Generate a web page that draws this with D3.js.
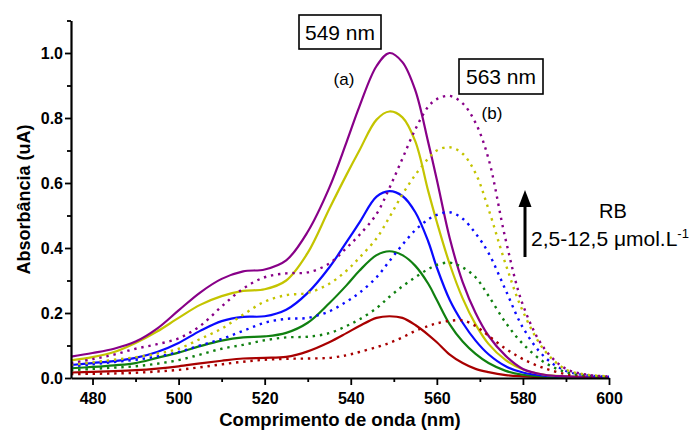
<!DOCTYPE html>
<html>
<head>
<meta charset="utf-8">
<script src="https://cdn.jsdelivr.net/npm/d3@7"></script>
<style>
  html, body { margin: 0; padding: 0; background: #ffffff; }
  svg { display: block; }
  text { font-family: "Liberation Sans", Arial, sans-serif; }
</style>
</head>
<body>
<svg id="chart" width="699" height="432"></svg>
<script>
// Wavelength grid (nm)
const wavelengths = [475,480,485,490,495,500,505,510,515,520,525,530,535,539,542,546,549,552,555,558,560,563,566,569,572,576,580,585,590,595,600];

// (a) spectra, maximum at 549 nm
const a1 = [0.017,0.019,0.021,0.024,0.029,0.036,0.045,0.053,0.060,0.062,0.065,0.082,0.110,0.138,0.160,0.185,0.190,0.185,0.163,0.133,0.110,0.072,0.046,0.028,0.018,0.009,0.005,0.002,0.001,0.001,0.001];
const a2 = [0.030,0.034,0.039,0.046,0.062,0.078,0.098,0.115,0.125,0.128,0.139,0.170,0.230,0.285,0.330,0.378,0.390,0.378,0.345,0.290,0.240,0.165,0.112,0.074,0.046,0.022,0.010,0.004,0.002,0.001,0.001];
const a3 = [0.040,0.046,0.052,0.062,0.080,0.108,0.145,0.175,0.188,0.190,0.210,0.262,0.340,0.418,0.478,0.558,0.575,0.560,0.510,0.420,0.340,0.240,0.170,0.115,0.073,0.036,0.017,0.007,0.004,0.002,0.001];
const a4 = [0.054,0.064,0.080,0.108,0.143,0.185,0.225,0.252,0.268,0.273,0.300,0.385,0.520,0.625,0.700,0.795,0.820,0.802,0.728,0.575,0.480,0.350,0.245,0.165,0.105,0.055,0.026,0.010,0.005,0.003,0.002];
const a5 = [0.066,0.077,0.090,0.112,0.152,0.208,0.263,0.305,0.328,0.334,0.362,0.450,0.585,0.725,0.835,0.960,1.000,0.972,0.885,0.725,0.610,0.430,0.295,0.200,0.130,0.068,0.028,0.010,0.005,0.003,0.002];

// (b) spectra, maximum at 563 nm
const b1 = [0.012,0.013,0.014,0.016,0.020,0.025,0.033,0.042,0.050,0.056,0.059,0.060,0.062,0.070,0.080,0.095,0.108,0.125,0.145,0.160,0.168,0.176,0.177,0.160,0.130,0.090,0.058,0.030,0.012,0.005,0.002];
const b2 = [0.024,0.028,0.032,0.036,0.044,0.055,0.072,0.090,0.102,0.116,0.125,0.127,0.138,0.160,0.180,0.215,0.250,0.282,0.310,0.335,0.348,0.355,0.340,0.310,0.253,0.170,0.105,0.048,0.018,0.007,0.003];
const b3 = [0.036,0.042,0.049,0.056,0.066,0.080,0.100,0.120,0.145,0.170,0.182,0.185,0.205,0.235,0.262,0.310,0.360,0.410,0.455,0.488,0.502,0.510,0.490,0.445,0.385,0.270,0.155,0.065,0.022,0.008,0.004];
const b4 = [0.040,0.048,0.056,0.064,0.075,0.090,0.120,0.152,0.195,0.235,0.255,0.262,0.290,0.330,0.370,0.430,0.495,0.565,0.625,0.675,0.700,0.710,0.690,0.630,0.520,0.350,0.205,0.085,0.026,0.010,0.005];
const b5 = [0.046,0.058,0.072,0.090,0.104,0.122,0.160,0.220,0.275,0.310,0.322,0.325,0.352,0.400,0.440,0.505,0.585,0.675,0.765,0.835,0.858,0.868,0.845,0.785,0.675,0.425,0.225,0.090,0.028,0.010,0.005];

const seriesColors = ["#a80000", "#108010", "#0a0aff", "#c4c400", "#880088"];
const solidSeries = [a1, a2, a3, a4, a5];
const dottedSeries = [b1, b2, b3, b4, b5];

// Axis ticks
const xMajorTicks = [480, 500, 520, 540, 560, 580, 600];
const xMinorTicks = [490, 510, 530, 550, 570, 590];
const yMajorTicks = [0.0, 0.2, 0.4, 0.6, 0.8, 1.0];
const yMinorTicks = [0.1, 0.3, 0.5, 0.7, 0.9, 1.1];

const svg = d3.select("#chart");

const x = d3.scaleLinear().domain([475, 600]).range([71, 609]);
const y = d3.scaleLinear().domain([0, 1.1]).range([378, 20.5]);

const line = d3.line()
  .x((d, i) => x(wavelengths[i]))
  .y(d => y(d))
  .curve(d3.curveCatmullRom.alpha(0.5));

const plot = svg.append("g");

// solid curves (a)
plot.selectAll("path.solid")
  .data(solidSeries)
  .join("path")
  .attr("class", "solid")
  .attr("d", line)
  .attr("fill", "none")
  .attr("stroke", (d, i) => seriesColors[i])
  .attr("stroke-width", 2.2);

// dotted curves (b)
plot.selectAll("path.dotted")
  .data(dottedSeries)
  .join("path")
  .attr("class", "dotted")
  .attr("d", line)
  .attr("fill", "none")
  .attr("stroke", (d, i) => seriesColors[i])
  .attr("stroke-width", 2.4)
  .attr("stroke-dasharray", "2.4 4.8");

// Axes
svg.append("g")
  .attr("transform", "translate(0,378)")
  .call(d3.axisBottom(x).tickValues(xMajorTicks).tickFormat(d3.format("d"))
    .tickSize(7).tickSizeOuter(0).tickPadding(8));
svg.append("g")
  .attr("transform", "translate(0,378)")
  .call(d3.axisBottom(x).tickValues(xMinorTicks).tickFormat("").tickSize(4).tickSizeOuter(0))
  .select(".domain").remove();

svg.append("g")
  .attr("transform", "translate(71,0)")
  .call(d3.axisLeft(y).tickValues(yMajorTicks).tickFormat(d3.format(".1f"))
    .tickSize(6).tickSizeOuter(0).tickPadding(2));
svg.append("g")
  .attr("transform", "translate(71,0)")
  .call(d3.axisLeft(y).tickValues(yMinorTicks).tickFormat("").tickSize(4).tickSizeOuter(0))
  .select(".domain").remove();

svg.selectAll(".domain").attr("stroke", "#000").attr("stroke-width", 2.2);
svg.selectAll(".tick line").attr("stroke", "#000").attr("stroke-width", 1.8);
svg.selectAll(".tick text")
  .attr("fill", "#000")
  .style("font-family", "'Liberation Sans', Arial, sans-serif")
  .style("font-size", "16px")
  .style("font-weight", "bold");

// Axis titles
svg.append("text")
  .attr("x", 340).attr("y", 426)
  .attr("text-anchor", "middle")
  .style("font-size", "18.5px").style("font-weight", "bold")
  .text("Comprimento de onda (nm)");

svg.append("text")
  .attr("transform", "translate(30,199.5) rotate(-90)")
  .attr("text-anchor", "middle")
  .style("font-size", "18px").style("font-weight", "bold")
  .text("Absorbância (uA)");

// Peak wavelength boxes
function peakBox(bx, by, bw, bh, label) {
  svg.append("rect")
    .attr("x", bx).attr("y", by).attr("width", bw).attr("height", bh)
    .attr("fill", "#fff").attr("stroke", "#000").attr("stroke-width", 1.6);
  svg.append("text")
    .attr("x", bx + bw / 2).attr("y", by + bh / 2 + 7.5)
    .attr("text-anchor", "middle")
    .style("font-size", "21px")
    .text(label);
}
peakBox(299, 15, 82, 34, "549 nm");
peakBox(459, 59, 84, 35, "563 nm");

svg.append("text").attr("x", 344).attr("y", 84.5).attr("text-anchor", "middle")
  .style("font-size", "17px").text("(a)");
svg.append("text").attr("x", 492).attr("y", 118.5).attr("text-anchor", "middle")
  .style("font-size", "17px").text("(b)");

// Concentration arrow
svg.append("line")
  .attr("x1", 525).attr("y1", 257).attr("x2", 525).attr("y2", 204)
  .attr("stroke", "#000").attr("stroke-width", 3);
svg.append("path")
  .attr("d", "M525,190 L518.5,207 L531.5,207 Z")
  .attr("fill", "#000");

svg.append("text").attr("x", 613).attr("y", 218).attr("text-anchor", "middle")
  .style("font-size", "20px").text("RB");

const conc = svg.append("text").attr("x", 531).attr("y", 246)
  .style("font-size", "21px");
conc.append("tspan").text("2,5-12,5 ");
conc.append("tspan").text("\u03bcmol.L");
conc.append("tspan").attr("dy", -8).style("font-size", "13px").text("-1");
</script>
</body>
</html>
